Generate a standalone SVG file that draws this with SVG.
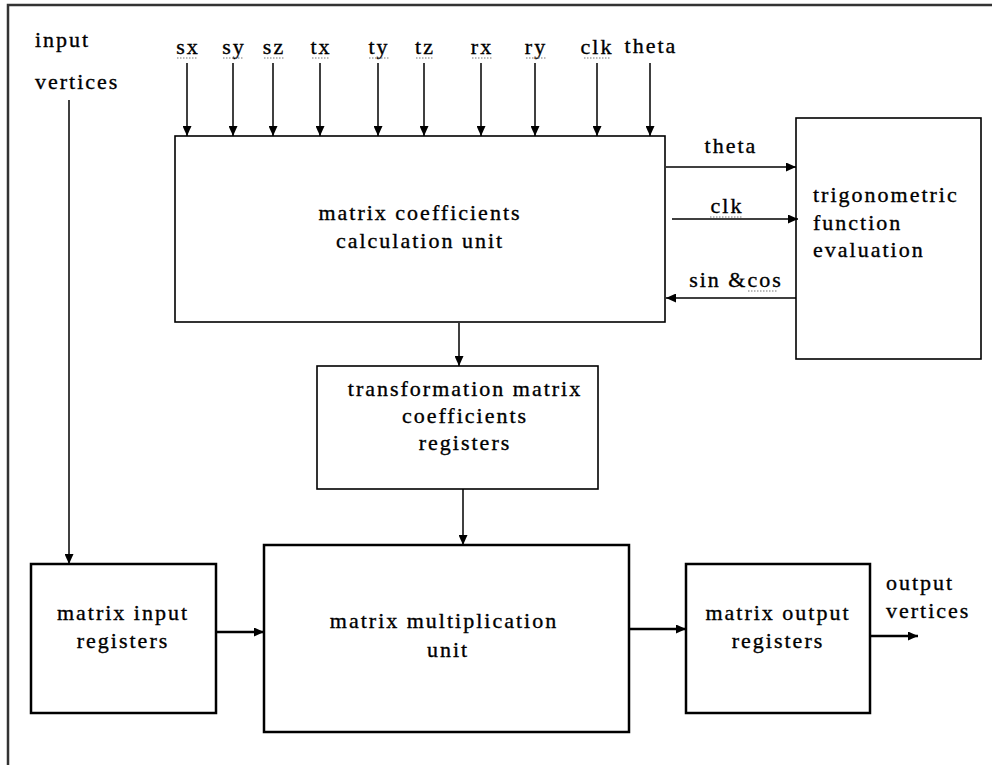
<svg xmlns="http://www.w3.org/2000/svg" width="992" height="765" viewBox="0 0 992 765">
<defs>
<marker id="ah" markerUnits="userSpaceOnUse" markerWidth="10" markerHeight="9" refX="10" refY="4.5" orient="auto">
<path d="M0,0 L10,4.5 L0,9 z" fill="#000"/>
</marker>
<style>
text{font-family:"Liberation Serif","Times New Roman",serif;font-size:22px;letter-spacing:2px;fill:#000;stroke:#000;stroke-width:0.35}
.c{text-anchor:middle}
.box{fill:#fff;stroke:#000;stroke-width:1.6}
.tb{fill:#fff;stroke:#000;stroke-width:2.5}
.ln{stroke:#000;stroke-width:1.5;fill:none}
.lt{stroke:#000;stroke-width:2.5;fill:none}
.sq{stroke:#777;stroke-width:1.2;stroke-dasharray:1.5 1.5;fill:none}
</style>
</defs>
<rect width="992" height="765" fill="#fff"/>
<g id="frame">
<path d="M8,765 V5 H992" stroke="#333" stroke-width="2.5" fill="none"/>
</g>
<g id="labels">
<text x="35" y="47">input</text>
<text x="35" y="89">vertices</text>
<text class="c" x="188" y="54">sx</text>
<text class="c" x="234" y="54">sy</text>
<text class="c" x="274" y="54">sz</text>
<text class="c" x="321" y="54">tx</text>
<text class="c" x="379" y="54">ty</text>
<text class="c" x="425" y="54">tz</text>
<text class="c" x="482" y="54">rx</text>
<text class="c" x="536" y="54">ry</text>
<text class="c" x="597" y="54">clk</text>
<text class="c" x="651" y="53">theta</text>
<text class="c" x="731" y="153">theta</text>
<text class="c" x="727" y="213">clk</text>
<text class="c" x="736" y="287">sin &amp;cos</text>
<text x="886" y="590">output</text>
<text x="886" y="618">vertices</text>
<path class="sq" d="M177,58 h20 M223,58 h20 M264,58 h20 M312,58 h18 M369,58 h20 M416,58 h18 M472,58 h20 M526,58 h20 M584,58 h26 M710,217 h32 M748,291 h30"/>
</g>
<g id="coef">
<rect class="box" x="175" y="136" width="490" height="186"/>
<text class="c" x="420" y="220">matrix coefficients</text>
<text class="c" x="420" y="248">calculation unit</text>
</g>
<g id="trig">
<rect class="box" x="796" y="118" width="185" height="241"/>
<text x="813" y="202">trigonometric</text>
<text x="813" y="230">function</text>
<text x="813" y="257">evaluation</text>
</g>
<g id="tmcr">
<rect class="box" x="317" y="366" width="281" height="123"/>
<text class="c" x="465" y="396">transformation matrix</text>
<text class="c" x="465" y="423">coefficients</text>
<text class="c" x="465" y="450">registers</text>
</g>
<g id="mir">
<rect class="tb" x="31" y="564" width="185" height="149"/>
<text class="c" x="123" y="620">matrix input</text>
<text class="c" x="123" y="648">registers</text>
</g>
<g id="mmu">
<rect class="tb" x="264" y="545" width="365" height="187"/>
<text class="c" x="444" y="628">matrix multiplication</text>
<text class="c" x="448" y="657">unit</text>
</g>
<g id="mor">
<rect class="tb" x="686" y="564" width="184" height="149"/>
<text class="c" x="778" y="620">matrix output</text>
<text class="c" x="778" y="648">registers</text>
</g>
<g id="connectors">
<path class="ln" marker-end="url(#ah)" d="M187,63 V136"/>
<path class="ln" marker-end="url(#ah)" d="M233,63 V136"/>
<path class="ln" marker-end="url(#ah)" d="M273,63 V136"/>
<path class="ln" marker-end="url(#ah)" d="M320,63 V136"/>
<path class="ln" marker-end="url(#ah)" d="M378,63 V136"/>
<path class="ln" marker-end="url(#ah)" d="M424,63 V136"/>
<path class="ln" marker-end="url(#ah)" d="M481,63 V136"/>
<path class="ln" marker-end="url(#ah)" d="M535,63 V136"/>
<path class="ln" marker-end="url(#ah)" d="M597,63 V136"/>
<path class="ln" marker-end="url(#ah)" d="M650,63 V136"/>
<path class="ln" marker-end="url(#ah)" d="M666,167 H796"/>
<path class="ln" marker-end="url(#ah)" d="M672,219 H798"/>
<path class="ln" marker-end="url(#ah)" d="M796,298 H666"/>
<path class="ln" marker-end="url(#ah)" d="M459,323 V366"/>
<path class="ln" marker-end="url(#ah)" d="M463,489 V545"/>
<path class="ln" marker-end="url(#ah)" d="M69,100 V564"/>
<path class="lt" marker-end="url(#ah)" d="M216,632 H264"/>
<path class="lt" marker-end="url(#ah)" d="M629,629 H686"/>
<path class="lt" marker-end="url(#ah)" d="M870,636 H918"/>
</g>
</svg>
